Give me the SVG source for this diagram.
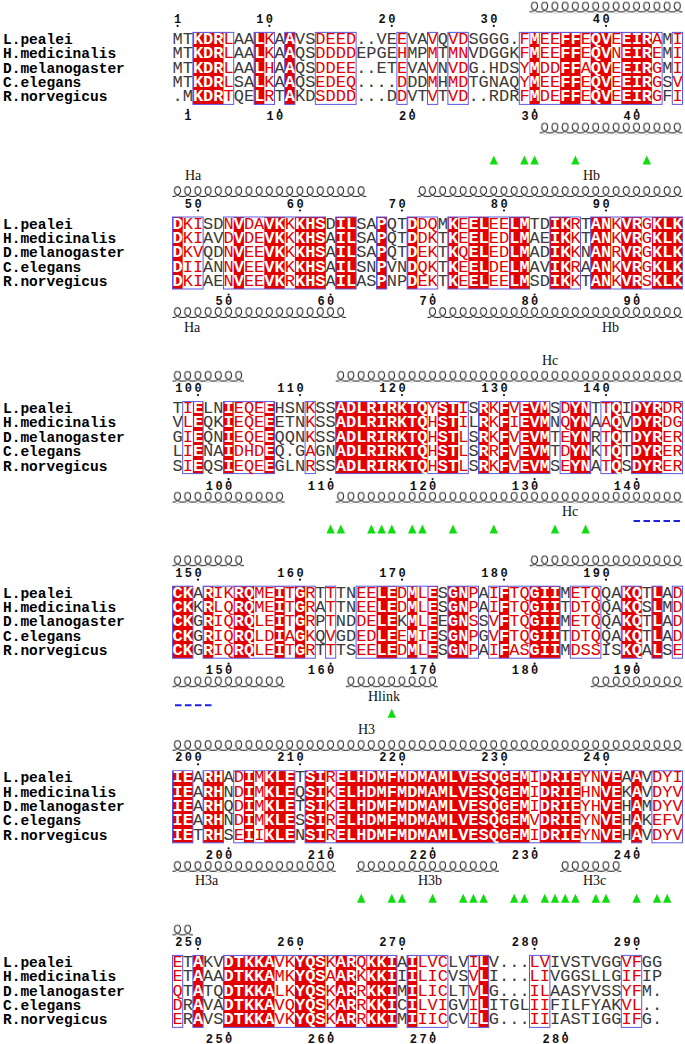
<svg xmlns="http://www.w3.org/2000/svg" width="685" height="1044" viewBox="0 0 685 1044">
<style>
.n{font:bold 14.5px 'Liberation Mono',monospace;fill:#000}
.seq text{font:17px 'Liberation Mono',monospace;fill:#3a3a3a}
.w{font-weight:bold;fill:#fff}
.r{fill:#e40000}
.num{font:bold 12px 'Liberation Mono',monospace;fill:#111;letter-spacing:2.4px}
.lab{font:14px 'Liberation Serif',serif;fill:#111}
.red rect{fill:#e40000}
.frm rect{fill:none;stroke:#5a5ae0;stroke-width:1}
.hx{fill:url(#coil)}
.tri{fill:#10dd10}
.dash{stroke:#2020e0;stroke-width:2;stroke-dasharray:6.5 3.5}
.dots{fill:#111}
</style>
<defs>
<pattern id="coil" patternUnits="userSpaceOnUse" x="0" y="0" width="10.2" height="12"><path d="M0,10.5 C3,10.5 8,8.5 8,5 C8,2 6.5,0.8 5,0.8 C3.5,0.8 2,2 2,5 C2,8.5 7,10.5 10.2,10.5" fill="none" stroke="#1a1a1a" stroke-width="1"/></pattern>
<path id="tri" d="M0,-4.5L4.2,4.5H-4.2Z"/>
</defs>

<g id="block1" transform="translate(172.5,32.4)">
<g class="red"><rect x="20.4" width="30.6" height="72"/><rect x="81.6" width="10.2" height="72"/><rect x="112.2" width="10.2" height="72"/><rect x="357" width="10.2" height="72"/><rect x="387.6" width="20.4" height="72"/><rect x="418.2" width="20.4" height="72"/><rect x="448.8" width="30.6" height="72"/></g>
<g class="frm"><rect x="20.4" width="40.8" height="72"/><rect x="81.6" width="20.4" height="72"/><rect x="112.2" width="10.2" height="72"/><rect x="142.8" width="40.8" height="72"/><rect x="224.4" width="10.2" height="72"/><rect x="255" width="10.2" height="72"/><rect x="275.4" width="20.4" height="72"/><rect x="346.8" width="142.8" height="72"/><rect x="499.8" width="10.2" height="72"/></g>
<g class="seq">
<text y="11.5">MT<tspan class="w">KDR</tspan><tspan class="r">L</tspan>AA<tspan class="w">L</tspan><tspan class="r">K</tspan>A<tspan class="w">A</tspan>VS<tspan class="r">DEED</tspan>..VE<tspan class="r">E</tspan>VA<tspan class="r">V</tspan>Q<tspan class="r">VD</tspan>SGGG.<tspan class="r">F</tspan><tspan class="w">M</tspan><tspan class="r">EE</tspan><tspan class="w">FF</tspan><tspan class="r">E</tspan><tspan class="w">QV</tspan><tspan class="r">E</tspan><tspan class="w">EIR</tspan><tspan class="r">A</tspan>M<tspan class="r">I</tspan></text>
<text y="25.9">MT<tspan class="w">KDR</tspan><tspan class="r">L</tspan>AA<tspan class="w">L</tspan><tspan class="r">K</tspan>A<tspan class="w">A</tspan>QS<tspan class="r">DDDD</tspan>EPGE<tspan class="r">H</tspan>MP<tspan class="r">M</tspan>T<tspan class="r">MN</tspan>VDGGK<tspan class="r">F</tspan><tspan class="w">M</tspan><tspan class="r">EE</tspan><tspan class="w">FF</tspan><tspan class="r">E</tspan><tspan class="w">QV</tspan><tspan class="r">N</tspan><tspan class="w">EIR</tspan><tspan class="r">E</tspan>M<tspan class="r">I</tspan></text>
<text y="40.3">MT<tspan class="w">KDR</tspan><tspan class="r">L</tspan>AA<tspan class="w">L</tspan><tspan class="r">H</tspan>A<tspan class="w">A</tspan>QS<tspan class="r">DDEE</tspan>..ET<tspan class="r">E</tspan>VA<tspan class="r">V</tspan>N<tspan class="r">VD</tspan>G.HDS<tspan class="r">Y</tspan><tspan class="w">M</tspan><tspan class="r">DD</tspan><tspan class="w">FF</tspan><tspan class="r">A</tspan><tspan class="w">QV</tspan><tspan class="r">E</tspan><tspan class="w">EIR</tspan><tspan class="r">G</tspan>M<tspan class="r">I</tspan></text>
<text y="54.7">MT<tspan class="w">KDR</tspan><tspan class="r">L</tspan>SA<tspan class="w">L</tspan><tspan class="r">K</tspan>A<tspan class="w">A</tspan>QS<tspan class="r">EDEQ</tspan>....<tspan class="r">D</tspan>DD<tspan class="r">M</tspan>H<tspan class="r">MD</tspan>TGNAQ<tspan class="r">Y</tspan><tspan class="w">M</tspan><tspan class="r">EE</tspan><tspan class="w">FF</tspan><tspan class="r">E</tspan><tspan class="w">QV</tspan><tspan class="r">E</tspan><tspan class="w">EIR</tspan><tspan class="r">G</tspan>S<tspan class="r">V</tspan></text>
<text y="69.1">.M<tspan class="w">KDR</tspan><tspan class="r">T</tspan>QE<tspan class="w">L</tspan><tspan class="r">R</tspan>T<tspan class="w">A</tspan>KD<tspan class="r">SDDD</tspan>...D<tspan class="r">D</tspan>VT<tspan class="r">V</tspan>T<tspan class="r">VD</tspan>..RDR<tspan class="r">F</tspan><tspan class="w">M</tspan><tspan class="r">DE</tspan><tspan class="w">FF</tspan><tspan class="r">E</tspan><tspan class="w">QV</tspan><tspan class="r">E</tspan><tspan class="w">EIR</tspan><tspan class="r">G</tspan>F<tspan class="r">I</tspan></text>
</g>
<g class="names"><text class="n" x="-169.5" y="11.5">L.pealei</text><text class="n" x="-169.5" y="25.9">H.medicinalis</text><text class="n" x="-169.5" y="40.3">D.melanogaster</text><text class="n" x="-169.5" y="54.7">C.elegans</text><text class="n" x="-169.5" y="69.1">R.norvegicus</text></g>
<text class="num" y="-9.5"><tspan x="1.5">1</tspan><tspan x="83.7">10</tspan><tspan x="206.1">20</tspan><tspan x="308.1">30</tspan><tspan x="420.3">40</tspan></text>
<text class="num" y="88"><tspan x="11.7">1</tspan><tspan x="93.9">10</tspan><tspan x="226.5">20</tspan><tspan x="348.9">30</tspan><tspan x="450.9">40</tspan></text>
<g class="dots"><circle cx="5.1" cy="-6.5" r="1.1"/><circle cx="96.9" cy="-6.5" r="1.1"/><circle cx="219.3" cy="-6.5" r="1.1"/><circle cx="321.3" cy="-6.5" r="1.1"/><circle cx="433.5" cy="-6.5" r="1.1"/><circle cx="15.3" cy="77.5" r="1.1"/><circle cx="107.1" cy="77.5" r="1.1"/><circle cx="239.7" cy="77.5" r="1.1"/><circle cx="362.1" cy="77.5" r="1.1"/><circle cx="464.1" cy="77.5" r="1.1"/></g>
<rect class="hx" transform="translate(357,-31)" width="153" height="12"/>
<rect class="hx" transform="translate(367.2,90)" width="142.8" height="12"/>
<g class="tri"><use href="#tri" x="321.3" y="127.5"/><use href="#tri" x="351.9" y="127.5"/><use href="#tri" x="362.1" y="127.5"/><use href="#tri" x="402.9" y="127.5"/><use href="#tri" x="474.3" y="127.5"/></g>
</g>

<g id="block2" transform="translate(172.5,217)">
<g class="red"><rect x="0" width="10.2" height="72"/><rect x="61.2" width="10.2" height="72"/><rect x="91.8" width="20.4" height="72"/><rect x="122.4" width="30.6" height="72"/><rect x="163.2" width="20.4" height="72"/><rect x="204" width="10.2" height="72"/><rect x="234.6" width="10.2" height="72"/><rect x="275.4" width="10.2" height="72"/><rect x="295.8" width="20.4" height="72"/><rect x="336.6" width="20.4" height="72"/><rect x="377.4" width="20.4" height="72"/><rect x="418.2" width="20.4" height="72"/><rect x="448.8" width="20.4" height="72"/><rect x="479.4" width="30.6" height="72"/></g>
<g class="frm"><rect x="0" width="30.6" height="72"/><rect x="51" width="102" height="72"/><rect x="163.2" width="20.4" height="72"/><rect x="204" width="10.2" height="72"/><rect x="234.6" width="30.6" height="72"/><rect x="275.4" width="81.6" height="72"/><rect x="377.4" width="30.6" height="72"/><rect x="418.2" width="91.8" height="72"/></g>
<g class="seq">
<text y="11.5"><tspan class="w">D</tspan><tspan class="r">KI</tspan>SD<tspan class="r">N</tspan><tspan class="w">V</tspan><tspan class="r">DA</tspan><tspan class="w">VK</tspan><tspan class="r">K</tspan><tspan class="w">KHS</tspan>D<tspan class="w">IL</tspan>SA<tspan class="w">P</tspan>QT<tspan class="w">D</tspan><tspan class="r">DQ</tspan>M<tspan class="w">K</tspan><tspan class="r">E</tspan><tspan class="w">EL</tspan><tspan class="r">EE</tspan><tspan class="w">LM</tspan>TD<tspan class="w">IK</tspan><tspan class="r">R</tspan>T<tspan class="w">AN</tspan><tspan class="r">K</tspan><tspan class="w">VR</tspan><tspan class="r">G</tspan><tspan class="w">KLK</tspan></text>
<text y="25.9"><tspan class="w">D</tspan><tspan class="r">KI</tspan>AV<tspan class="r">D</tspan><tspan class="w">V</tspan><tspan class="r">DE</tspan><tspan class="w">VK</tspan><tspan class="r">K</tspan><tspan class="w">KHS</tspan>A<tspan class="w">IL</tspan>SA<tspan class="w">P</tspan>QT<tspan class="w">D</tspan><tspan class="r">DK</tspan>T<tspan class="w">K</tspan><tspan class="r">E</tspan><tspan class="w">EL</tspan><tspan class="r">ED</tspan><tspan class="w">LM</tspan>AE<tspan class="w">IK</tspan><tspan class="r">K</tspan>T<tspan class="w">AN</tspan><tspan class="r">K</tspan><tspan class="w">VR</tspan><tspan class="r">G</tspan><tspan class="w">KLK</tspan></text>
<text y="40.3"><tspan class="w">D</tspan><tspan class="r">KV</tspan>QD<tspan class="r">N</tspan><tspan class="w">V</tspan><tspan class="r">EE</tspan><tspan class="w">VK</tspan><tspan class="r">K</tspan><tspan class="w">KHS</tspan>A<tspan class="w">IL</tspan>SA<tspan class="w">P</tspan>QT<tspan class="w">D</tspan><tspan class="r">EK</tspan>T<tspan class="w">K</tspan><tspan class="r">Q</tspan><tspan class="w">EL</tspan><tspan class="r">ED</tspan><tspan class="w">LM</tspan>AD<tspan class="w">IK</tspan><tspan class="r">K</tspan>N<tspan class="w">AN</tspan><tspan class="r">R</tspan><tspan class="w">VR</tspan><tspan class="r">G</tspan><tspan class="w">KLK</tspan></text>
<text y="54.7"><tspan class="w">D</tspan><tspan class="r">II</tspan>AN<tspan class="r">N</tspan><tspan class="w">V</tspan><tspan class="r">EE</tspan><tspan class="w">VK</tspan><tspan class="r">K</tspan><tspan class="w">KHS</tspan>A<tspan class="w">IL</tspan>SN<tspan class="w">P</tspan>VN<tspan class="w">D</tspan><tspan class="r">QK</tspan>T<tspan class="w">K</tspan><tspan class="r">E</tspan><tspan class="w">EL</tspan><tspan class="r">DE</tspan><tspan class="w">LM</tspan>AV<tspan class="w">IK</tspan><tspan class="r">R</tspan>A<tspan class="w">AN</tspan><tspan class="r">K</tspan><tspan class="w">VR</tspan><tspan class="r">G</tspan><tspan class="w">KLK</tspan></text>
<text y="69.1"><tspan class="w">D</tspan><tspan class="r">KI</tspan>AE<tspan class="r">N</tspan><tspan class="w">V</tspan><tspan class="r">EE</tspan><tspan class="w">VK</tspan><tspan class="r">R</tspan><tspan class="w">KHS</tspan>A<tspan class="w">IL</tspan>AS<tspan class="w">P</tspan>NP<tspan class="w">D</tspan><tspan class="r">EK</tspan>T<tspan class="w">K</tspan><tspan class="r">E</tspan><tspan class="w">EL</tspan><tspan class="r">EE</tspan><tspan class="w">LM</tspan>SD<tspan class="w">IK</tspan><tspan class="r">K</tspan>T<tspan class="w">AN</tspan><tspan class="r">K</tspan><tspan class="w">VR</tspan><tspan class="r">S</tspan><tspan class="w">KLK</tspan></text>
</g>
<g class="names"><text class="n" x="-169.5" y="11.5">L.pealei</text><text class="n" x="-169.5" y="25.9">H.medicinalis</text><text class="n" x="-169.5" y="40.3">D.melanogaster</text><text class="n" x="-169.5" y="54.7">C.elegans</text><text class="n" x="-169.5" y="69.1">R.norvegicus</text></g>
<text class="num" y="-9.5"><tspan x="12.3">50</tspan><tspan x="114.3">60</tspan><tspan x="216.3">70</tspan><tspan x="318.3">80</tspan><tspan x="420.3">90</tspan></text>
<text class="num" y="88"><tspan x="42.9">50</tspan><tspan x="144.9">60</tspan><tspan x="246.9">70</tspan><tspan x="348.9">80</tspan><tspan x="450.9">90</tspan></text>
<g class="dots"><circle cx="25.5" cy="-6.5" r="1.1"/><circle cx="127.5" cy="-6.5" r="1.1"/><circle cx="229.5" cy="-6.5" r="1.1"/><circle cx="331.5" cy="-6.5" r="1.1"/><circle cx="433.5" cy="-6.5" r="1.1"/><circle cx="56.1" cy="77.5" r="1.1"/><circle cx="158.1" cy="77.5" r="1.1"/><circle cx="260.1" cy="77.5" r="1.1"/><circle cx="362.1" cy="77.5" r="1.1"/><circle cx="464.1" cy="77.5" r="1.1"/></g>
<rect class="hx" transform="translate(0,-31)" width="193.8" height="12"/>
<rect class="hx" transform="translate(244.8,-31)" width="265.2" height="12"/>
<rect class="hx" transform="translate(0,90)" width="173.4" height="12"/>
<rect class="hx" transform="translate(255,90)" width="255" height="12"/>
<text class="lab" x="12.5" y="-37">Ha</text><text class="lab" x="410.5" y="-37">Hb</text>
<text class="lab" x="11.5" y="114.5">Ha</text><text class="lab" x="429.5" y="114.5">Hb</text>
</g>

<g id="block3" transform="translate(172.5,401.6)">
<g class="red"><rect x="20.4" width="10.2" height="72"/><rect x="51" width="10.2" height="72"/><rect x="91.8" width="10.2" height="72"/><rect x="163.2" width="91.8" height="72"/><rect x="265.2" width="20.4" height="72"/><rect x="306" width="10.2" height="72"/><rect x="326.4" width="10.2" height="72"/><rect x="346.8" width="30.6" height="72"/><rect x="397.8" width="20.4" height="72"/><rect x="438.6" width="10.2" height="72"/><rect x="459" width="30.6" height="72"/></g>
<g class="frm"><rect x="10.2" width="20.4" height="72"/><rect x="51" width="51" height="72"/><rect x="132.6" width="10.2" height="72"/><rect x="163.2" width="132.6" height="72"/><rect x="306" width="71.4" height="72"/><rect x="387.6" width="30.6" height="72"/><rect x="428.4" width="20.4" height="72"/><rect x="459" width="51" height="72"/></g>
<g class="seq">
<text y="11.5">T<tspan class="r">I</tspan><tspan class="w">E</tspan>LN<tspan class="w">I</tspan><tspan class="r">EQE</tspan><tspan class="w">E</tspan>HSN<tspan class="r">K</tspan>SS<tspan class="w">ADLRIRKTQ</tspan><tspan class="r">Y</tspan><tspan class="w">ST</tspan><tspan class="r">I</tspan>S<tspan class="w">R</tspan><tspan class="r">K</tspan><tspan class="w">F</tspan><tspan class="r">V</tspan><tspan class="w">EVM</tspan>S<tspan class="r">D</tspan><tspan class="w">YN</tspan>T<tspan class="r">T</tspan><tspan class="w">Q</tspan>I<tspan class="w">DYR</tspan><tspan class="r">DR</tspan></text>
<text y="25.9">V<tspan class="r">L</tspan><tspan class="w">E</tspan>QK<tspan class="w">I</tspan><tspan class="r">EQE</tspan><tspan class="w">E</tspan>ETN<tspan class="r">K</tspan>SS<tspan class="w">ADLRIRKTQ</tspan><tspan class="r">H</tspan><tspan class="w">ST</tspan><tspan class="r">I</tspan>L<tspan class="w">R</tspan><tspan class="r">K</tspan><tspan class="w">F</tspan><tspan class="r">I</tspan><tspan class="w">EVM</tspan>N<tspan class="r">Q</tspan><tspan class="w">YN</tspan>A<tspan class="r">A</tspan><tspan class="w">Q</tspan>V<tspan class="w">DYR</tspan><tspan class="r">DG</tspan></text>
<text y="40.3">G<tspan class="r">I</tspan><tspan class="w">E</tspan>QN<tspan class="w">I</tspan><tspan class="r">EQE</tspan><tspan class="w">E</tspan>QQN<tspan class="r">K</tspan>SS<tspan class="w">ADLRIRKTQ</tspan><tspan class="r">H</tspan><tspan class="w">ST</tspan><tspan class="r">L</tspan>S<tspan class="w">R</tspan><tspan class="r">K</tspan><tspan class="w">F</tspan><tspan class="r">V</tspan><tspan class="w">EVM</tspan>T<tspan class="r">E</tspan><tspan class="w">YN</tspan>R<tspan class="r">T</tspan><tspan class="w">Q</tspan>T<tspan class="w">DYR</tspan><tspan class="r">ER</tspan></text>
<text y="54.7">L<tspan class="r">I</tspan><tspan class="w">E</tspan>NA<tspan class="w">I</tspan><tspan class="r">DHD</tspan><tspan class="w">E</tspan>Q.G<tspan class="r">A</tspan>GN<tspan class="w">ADLRIRKTQ</tspan><tspan class="r">H</tspan><tspan class="w">ST</tspan><tspan class="r">L</tspan>S<tspan class="w">R</tspan><tspan class="r">R</tspan><tspan class="w">F</tspan><tspan class="r">V</tspan><tspan class="w">EVM</tspan>T<tspan class="r">D</tspan><tspan class="w">YN</tspan>K<tspan class="r">T</tspan><tspan class="w">Q</tspan>T<tspan class="w">DYR</tspan><tspan class="r">ER</tspan></text>
<text y="69.1">S<tspan class="r">I</tspan><tspan class="w">E</tspan>QS<tspan class="w">I</tspan><tspan class="r">EQE</tspan><tspan class="w">E</tspan>GLN<tspan class="r">R</tspan>SS<tspan class="w">ADLRIRKTQ</tspan><tspan class="r">H</tspan><tspan class="w">ST</tspan><tspan class="r">L</tspan>S<tspan class="w">R</tspan><tspan class="r">K</tspan><tspan class="w">F</tspan><tspan class="r">V</tspan><tspan class="w">EVM</tspan>S<tspan class="r">E</tspan><tspan class="w">YN</tspan>A<tspan class="r">T</tspan><tspan class="w">Q</tspan>S<tspan class="w">DYR</tspan><tspan class="r">ER</tspan></text>
</g>
<g class="names"><text class="n" x="-169.5" y="11.5">L.pealei</text><text class="n" x="-169.5" y="25.9">H.medicinalis</text><text class="n" x="-169.5" y="40.3">D.melanogaster</text><text class="n" x="-169.5" y="54.7">C.elegans</text><text class="n" x="-169.5" y="69.1">R.norvegicus</text></g>
<text class="num" y="-9.5"><tspan x="2.7">100</tspan><tspan x="104.7">110</tspan><tspan x="206.7">120</tspan><tspan x="308.7">130</tspan><tspan x="410.7">140</tspan></text>
<text class="num" y="88"><tspan x="33.3">100</tspan><tspan x="135.3">110</tspan><tspan x="237.3">120</tspan><tspan x="339.3">130</tspan><tspan x="441.3">140</tspan></text>
<g class="dots"><circle cx="25.5" cy="-6.5" r="1.1"/><circle cx="127.5" cy="-6.5" r="1.1"/><circle cx="229.5" cy="-6.5" r="1.1"/><circle cx="331.5" cy="-6.5" r="1.1"/><circle cx="433.5" cy="-6.5" r="1.1"/><circle cx="56.1" cy="77.5" r="1.1"/><circle cx="158.1" cy="77.5" r="1.1"/><circle cx="260.1" cy="77.5" r="1.1"/><circle cx="362.1" cy="77.5" r="1.1"/><circle cx="464.1" cy="77.5" r="1.1"/></g>
<rect class="hx" transform="translate(0,-31)" width="71.4" height="12"/>
<rect class="hx" transform="translate(163.2,-31)" width="346.8" height="12"/>
<rect class="hx" transform="translate(0,90)" width="112.2" height="12"/>
<rect class="hx" transform="translate(163.2,90)" width="346.8" height="12"/>
<text class="lab" x="369.5" y="-37">Hc</text><text class="lab" x="389.5" y="114.5">Hc</text>
<line class="dash" x1="461" y1="119.4" x2="510" y2="119.4"/>
<g class="tri"><use href="#tri" x="158.1" y="127.5"/><use href="#tri" x="168.3" y="127.5"/><use href="#tri" x="198.9" y="127.5"/><use href="#tri" x="209.1" y="127.5"/><use href="#tri" x="219.3" y="127.5"/><use href="#tri" x="239.7" y="127.5"/><use href="#tri" x="249.9" y="127.5"/><use href="#tri" x="280.5" y="127.5"/><use href="#tri" x="321.3" y="127.5"/><use href="#tri" x="382.5" y="127.5"/><use href="#tri" x="413.1" y="127.5"/></g>
</g>

<g id="block4" transform="translate(172.5,586.2)">
<g class="red"><rect x="0" width="20.4" height="72"/><rect x="30.6" width="10.2" height="72"/><rect x="61.2" width="20.4" height="72"/><rect x="102" width="10.2" height="72"/><rect x="122.4" width="10.2" height="72"/><rect x="204" width="20.4" height="72"/><rect x="234.6" width="10.2" height="72"/><rect x="255" width="10.2" height="72"/><rect x="275.4" width="20.4" height="72"/><rect x="326.4" width="10.2" height="72"/><rect x="357" width="30.6" height="72"/><rect x="448.8" width="20.4" height="72"/><rect x="479.4" width="10.2" height="72"/></g>
<g class="frm"><rect x="0" width="20.4" height="72"/><rect x="30.6" width="112.2" height="72"/><rect x="153" width="10.2" height="72"/><rect x="183.6" width="81.6" height="72"/><rect x="275.4" width="30.6" height="72"/><rect x="316.2" width="71.4" height="72"/><rect x="397.8" width="30.6" height="72"/><rect x="448.8" width="20.4" height="72"/><rect x="479.4" width="10.2" height="72"/><rect x="499.8" width="10.2" height="72"/></g>
<g class="seq">
<text y="11.5"><tspan class="w">CK</tspan>A<tspan class="w">R</tspan><tspan class="r">IK</tspan><tspan class="w">RQ</tspan><tspan class="r">ME</tspan><tspan class="w">I</tspan><tspan class="r">T</tspan><tspan class="w">G</tspan><tspan class="r">R</tspan>T<tspan class="r">T</tspan>TN<tspan class="r">EE</tspan><tspan class="w">LE</tspan><tspan class="r">D</tspan><tspan class="w">M</tspan><tspan class="r">L</tspan><tspan class="w">E</tspan>S<tspan class="w">GN</tspan><tspan class="r">P</tspan>A<tspan class="r">I</tspan><tspan class="w">F</tspan><tspan class="r">TQ</tspan><tspan class="w">GII</tspan>M<tspan class="r">ETQ</tspan>QA<tspan class="w">KQ</tspan>T<tspan class="w">L</tspan>A<tspan class="r">D</tspan></text>
<text y="25.9"><tspan class="w">CK</tspan>K<tspan class="w">R</tspan><tspan class="r">LQ</tspan><tspan class="w">RQ</tspan><tspan class="r">ME</tspan><tspan class="w">I</tspan><tspan class="r">T</tspan><tspan class="w">G</tspan><tspan class="r">R</tspan>A<tspan class="r">T</tspan>TN<tspan class="r">EE</tspan><tspan class="w">LE</tspan><tspan class="r">D</tspan><tspan class="w">M</tspan><tspan class="r">L</tspan><tspan class="w">E</tspan>S<tspan class="w">GN</tspan><tspan class="r">P</tspan>A<tspan class="r">I</tspan><tspan class="w">F</tspan><tspan class="r">TQ</tspan><tspan class="w">GII</tspan>T<tspan class="r">DTQ</tspan>QA<tspan class="w">KQ</tspan>S<tspan class="w">L</tspan>M<tspan class="r">D</tspan></text>
<text y="40.3"><tspan class="w">CK</tspan>G<tspan class="w">R</tspan><tspan class="r">IQ</tspan><tspan class="w">RQ</tspan><tspan class="r">LE</tspan><tspan class="w">I</tspan><tspan class="r">T</tspan><tspan class="w">G</tspan><tspan class="r">R</tspan>P<tspan class="r">T</tspan>ND<tspan class="r">DE</tspan><tspan class="w">LE</tspan>K<tspan class="w">M</tspan><tspan class="r">L</tspan><tspan class="w">E</tspan>E<tspan class="w">GN</tspan><tspan class="r">S</tspan>S<tspan class="r">V</tspan><tspan class="w">F</tspan><tspan class="r">TQ</tspan><tspan class="w">GII</tspan>M<tspan class="r">ETQ</tspan>QA<tspan class="w">KQ</tspan>T<tspan class="w">L</tspan>A<tspan class="r">D</tspan></text>
<text y="54.7"><tspan class="w">CK</tspan>G<tspan class="w">R</tspan><tspan class="r">IQ</tspan><tspan class="w">RQ</tspan><tspan class="r">LD</tspan><tspan class="w">I</tspan><tspan class="r">A</tspan><tspan class="w">G</tspan><tspan class="r">K</tspan>Q<tspan class="r">V</tspan>GD<tspan class="r">ED</tspan><tspan class="w">LE</tspan><tspan class="r">E</tspan><tspan class="w">M</tspan><tspan class="r">I</tspan><tspan class="w">E</tspan>S<tspan class="w">GN</tspan><tspan class="r">P</tspan>G<tspan class="r">V</tspan><tspan class="w">F</tspan><tspan class="r">TQ</tspan><tspan class="w">GII</tspan>T<tspan class="r">DTQ</tspan>QA<tspan class="w">KQ</tspan>T<tspan class="w">L</tspan>A<tspan class="r">D</tspan></text>
<text y="69.1"><tspan class="w">CK</tspan>G<tspan class="w">R</tspan><tspan class="r">IQ</tspan><tspan class="w">RQ</tspan><tspan class="r">LE</tspan><tspan class="w">I</tspan><tspan class="r">T</tspan><tspan class="w">G</tspan><tspan class="r">R</tspan>T<tspan class="r">T</tspan>TS<tspan class="r">EE</tspan><tspan class="w">LE</tspan><tspan class="r">D</tspan><tspan class="w">M</tspan><tspan class="r">L</tspan><tspan class="w">E</tspan>S<tspan class="w">GN</tspan><tspan class="r">P</tspan>A<tspan class="r">I</tspan><tspan class="w">F</tspan><tspan class="r">AS</tspan><tspan class="w">GII</tspan>M<tspan class="r">DSS</tspan>IS<tspan class="w">KQ</tspan>A<tspan class="w">L</tspan>S<tspan class="r">E</tspan></text>
</g>
<g class="names"><text class="n" x="-169.5" y="11.5">L.pealei</text><text class="n" x="-169.5" y="25.9">H.medicinalis</text><text class="n" x="-169.5" y="40.3">D.melanogaster</text><text class="n" x="-169.5" y="54.7">C.elegans</text><text class="n" x="-169.5" y="69.1">R.norvegicus</text></g>
<text class="num" y="-9.5"><tspan x="2.7">150</tspan><tspan x="104.7">160</tspan><tspan x="206.7">170</tspan><tspan x="308.7">180</tspan><tspan x="410.7">190</tspan></text>
<text class="num" y="88"><tspan x="33.3">150</tspan><tspan x="135.3">160</tspan><tspan x="237.3">170</tspan><tspan x="339.3">180</tspan><tspan x="441.3">190</tspan></text>
<g class="dots"><circle cx="25.5" cy="-6.5" r="1.1"/><circle cx="127.5" cy="-6.5" r="1.1"/><circle cx="229.5" cy="-6.5" r="1.1"/><circle cx="331.5" cy="-6.5" r="1.1"/><circle cx="433.5" cy="-6.5" r="1.1"/><circle cx="56.1" cy="77.5" r="1.1"/><circle cx="158.1" cy="77.5" r="1.1"/><circle cx="260.1" cy="77.5" r="1.1"/><circle cx="362.1" cy="77.5" r="1.1"/><circle cx="464.1" cy="77.5" r="1.1"/></g>
<rect class="hx" transform="translate(0,-31)" width="71.4" height="12"/>
<rect class="hx" transform="translate(357,-31)" width="153" height="12"/>
<rect class="hx" transform="translate(0,90)" width="112.2" height="12"/>
<rect class="hx" transform="translate(173.4,90)" width="91.8" height="12"/>
<rect class="hx" transform="translate(418.2,90)" width="91.8" height="12"/>
<text class="lab" x="195.5" y="114.5">Hlink</text>
<line class="dash" x1="2.5" y1="119" x2="41" y2="119"/>
<g class="tri"><use href="#tri" x="219.3" y="127"/></g>
</g>

<g id="block5" transform="translate(172.5,770.8)">
<g class="red"><rect x="0" width="20.4" height="72"/><rect x="30.6" width="20.4" height="72"/><rect x="71.4" width="10.2" height="72"/><rect x="91.8" width="30.6" height="72"/><rect x="132.6" width="20.4" height="72"/><rect x="163.2" width="193.8" height="72"/><rect x="367.2" width="40.8" height="72"/><rect x="428.4" width="20.4" height="72"/><rect x="459" width="10.2" height="72"/></g>
<g class="frm"><rect x="0" width="20.4" height="72"/><rect x="30.6" width="20.4" height="72"/><rect x="61.2" width="61.2" height="72"/><rect x="132.6" width="316.2" height="72"/><rect x="459" width="10.2" height="72"/><rect x="479.4" width="30.6" height="72"/></g>
<g class="seq">
<text y="11.5"><tspan class="w">IE</tspan>A<tspan class="w">RH</tspan>A<tspan class="r">D</tspan><tspan class="w">I</tspan><tspan class="r">M</tspan><tspan class="w">KLE</tspan>T<tspan class="w">SI</tspan><tspan class="r">R</tspan><tspan class="w">ELHDMFMDMAMLVESQGEM</tspan><tspan class="r">I</tspan><tspan class="w">DRIE</tspan><tspan class="r">YN</tspan><tspan class="w">VE</tspan>A<tspan class="w">A</tspan>V<tspan class="r">DYI</tspan></text>
<text y="25.9"><tspan class="w">IE</tspan>A<tspan class="w">RH</tspan>N<tspan class="r">D</tspan><tspan class="w">I</tspan><tspan class="r">M</tspan><tspan class="w">KLE</tspan>Q<tspan class="w">SI</tspan><tspan class="r">K</tspan><tspan class="w">ELHDMFMDMAMLVESQGEM</tspan><tspan class="r">I</tspan><tspan class="w">DRIE</tspan><tspan class="r">HN</tspan><tspan class="w">VE</tspan>K<tspan class="w">A</tspan>V<tspan class="r">DYV</tspan></text>
<text y="40.3"><tspan class="w">IE</tspan>A<tspan class="w">RH</tspan>Q<tspan class="r">D</tspan><tspan class="w">I</tspan><tspan class="r">M</tspan><tspan class="w">KLE</tspan>T<tspan class="w">SI</tspan><tspan class="r">K</tspan><tspan class="w">ELHDMFMDMAMLVESQGEM</tspan><tspan class="r">I</tspan><tspan class="w">DRIE</tspan><tspan class="r">YH</tspan><tspan class="w">VE</tspan>H<tspan class="w">A</tspan>M<tspan class="r">DYV</tspan></text>
<text y="54.7"><tspan class="w">IE</tspan>A<tspan class="w">RH</tspan>N<tspan class="r">D</tspan><tspan class="w">I</tspan><tspan class="r">M</tspan><tspan class="w">KLE</tspan>S<tspan class="w">SI</tspan><tspan class="r">R</tspan><tspan class="w">ELHDMFMDMAMLVESQGEM</tspan><tspan class="r">V</tspan><tspan class="w">DRIE</tspan><tspan class="r">YN</tspan><tspan class="w">VE</tspan>H<tspan class="w">A</tspan>K<tspan class="r">EFV</tspan></text>
<text y="69.1"><tspan class="w">IE</tspan>T<tspan class="w">RH</tspan>S<tspan class="r">E</tspan><tspan class="w">I</tspan><tspan class="r">I</tspan><tspan class="w">KLE</tspan>N<tspan class="w">SI</tspan><tspan class="r">R</tspan><tspan class="w">ELHDMFMDMAMLVESQGEM</tspan><tspan class="r">I</tspan><tspan class="w">DRIE</tspan><tspan class="r">YN</tspan><tspan class="w">VE</tspan>H<tspan class="w">A</tspan>V<tspan class="r">DYV</tspan></text>
</g>
<g class="names"><text class="n" x="-169.5" y="11.5">L.pealei</text><text class="n" x="-169.5" y="25.9">H.medicinalis</text><text class="n" x="-169.5" y="40.3">D.melanogaster</text><text class="n" x="-169.5" y="54.7">C.elegans</text><text class="n" x="-169.5" y="69.1">R.norvegicus</text></g>
<text class="num" y="-9.5"><tspan x="2.7">200</tspan><tspan x="104.7">210</tspan><tspan x="206.7">220</tspan><tspan x="308.7">230</tspan><tspan x="410.7">240</tspan></text>
<text class="num" y="88"><tspan x="33.3">200</tspan><tspan x="135.3">210</tspan><tspan x="237.3">220</tspan><tspan x="339.3">230</tspan><tspan x="441.3">240</tspan></text>
<g class="dots"><circle cx="25.5" cy="-6.5" r="1.1"/><circle cx="127.5" cy="-6.5" r="1.1"/><circle cx="229.5" cy="-6.5" r="1.1"/><circle cx="331.5" cy="-6.5" r="1.1"/><circle cx="433.5" cy="-6.5" r="1.1"/><circle cx="56.1" cy="77.5" r="1.1"/><circle cx="158.1" cy="77.5" r="1.1"/><circle cx="260.1" cy="77.5" r="1.1"/><circle cx="362.1" cy="77.5" r="1.1"/><circle cx="464.1" cy="77.5" r="1.1"/></g>
<rect class="hx" transform="translate(0,-31)" width="510" height="12"/>
<rect class="hx" transform="translate(0,90)" width="163.2" height="12"/>
<rect class="hx" transform="translate(183.6,90)" width="142.8" height="12"/>
<rect class="hx" transform="translate(387.6,90)" width="61.2" height="12"/>
<text class="lab" x="185.5" y="-37">H3</text>
<text class="lab" x="22.5" y="114.5">H3a</text><text class="lab" x="245.5" y="114.5">H3b</text><text class="lab" x="410.5" y="114.5">H3c</text>
<g class="tri"><use href="#tri" x="188.7" y="127.5"/><use href="#tri" x="219.3" y="127.5"/><use href="#tri" x="229.5" y="127.5"/><use href="#tri" x="260.1" y="127.5"/><use href="#tri" x="290.7" y="127.5"/><use href="#tri" x="300.9" y="127.5"/><use href="#tri" x="311.1" y="127.5"/><use href="#tri" x="341.7" y="127.5"/><use href="#tri" x="351.9" y="127.5"/><use href="#tri" x="372.3" y="127.5"/><use href="#tri" x="382.5" y="127.5"/><use href="#tri" x="392.7" y="127.5"/><use href="#tri" x="402.9" y="127.5"/><use href="#tri" x="423.3" y="127.5"/><use href="#tri" x="433.5" y="127.5"/><use href="#tri" x="464.1" y="127.5"/><use href="#tri" x="484.5" y="127.5"/><use href="#tri" x="494.7" y="127.5"/></g>
</g>

<g id="block6" transform="translate(172.5,955.4)">
<g class="red"><rect x="20.4" width="10.2" height="72"/><rect x="51" width="51" height="72"/><rect x="122.4" width="30.6" height="72"/><rect x="163.2" width="20.4" height="72"/><rect x="193.8" width="30.6" height="72"/><rect x="234.6" width="10.2" height="72"/><rect x="306" width="10.2" height="72"/></g>
<g class="frm"><rect x="0" width="10.2" height="72"/><rect x="20.4" width="10.2" height="72"/><rect x="51" width="173.4" height="72"/><rect x="234.6" width="40.8" height="72"/><rect x="295.8" width="20.4" height="72"/><rect x="357" width="20.4" height="72"/><rect x="448.8" width="20.4" height="72"/></g>
<g class="seq">
<text y="11.5"><tspan class="r">E</tspan>T<tspan class="w">A</tspan>KV<tspan class="w">DTKKA</tspan><tspan class="r">VK</tspan><tspan class="w">YQS</tspan><tspan class="r">K</tspan><tspan class="w">AR</tspan><tspan class="r">Q</tspan><tspan class="w">KKI</tspan>A<tspan class="w">I</tspan><tspan class="r">LVC</tspan>LV<tspan class="r">I</tspan><tspan class="w">L</tspan>V...<tspan class="r">LV</tspan>IVSTVGG<tspan class="r">VF</tspan>GG</text>
<text y="25.9"><tspan class="r">E</tspan>T<tspan class="w">A</tspan>AA<tspan class="w">DTKKA</tspan><tspan class="r">MK</tspan><tspan class="w">YQS</tspan><tspan class="r">A</tspan><tspan class="w">AR</tspan><tspan class="r">K</tspan><tspan class="w">KKI</tspan>I<tspan class="w">I</tspan><tspan class="r">LIC</tspan>VS<tspan class="r">V</tspan><tspan class="w">L</tspan>I...<tspan class="r">LI</tspan>VGGSLLG<tspan class="r">IF</tspan>IP</text>
<text y="40.3"><tspan class="r">Q</tspan>T<tspan class="w">A</tspan>TQ<tspan class="w">DTKKA</tspan><tspan class="r">LK</tspan><tspan class="w">YQS</tspan><tspan class="r">K</tspan><tspan class="w">AR</tspan><tspan class="r">R</tspan><tspan class="w">KKI</tspan>M<tspan class="w">I</tspan><tspan class="r">LIC</tspan>LT<tspan class="r">V</tspan><tspan class="w">L</tspan>G...<tspan class="r">IL</tspan>AASYVSS<tspan class="r">YF</tspan>M.</text>
<text y="54.7"><tspan class="r">D</tspan>R<tspan class="w">A</tspan>VA<tspan class="w">DTKKA</tspan><tspan class="r">VQ</tspan><tspan class="w">YQS</tspan><tspan class="r">K</tspan><tspan class="w">AR</tspan><tspan class="r">R</tspan><tspan class="w">KKI</tspan>C<tspan class="w">I</tspan><tspan class="r">LVI</tspan>GV<tspan class="r">I</tspan><tspan class="w">L</tspan>ITGL<tspan class="r">II</tspan>FILFYAK<tspan class="r">VL</tspan>..</text>
<text y="69.1"><tspan class="r">E</tspan>R<tspan class="w">A</tspan>VS<tspan class="w">DTKKA</tspan><tspan class="r">VK</tspan><tspan class="w">YQS</tspan><tspan class="r">K</tspan><tspan class="w">AR</tspan><tspan class="r">R</tspan><tspan class="w">KKI</tspan>M<tspan class="w">I</tspan><tspan class="r">IIC</tspan>CV<tspan class="r">I</tspan><tspan class="w">L</tspan>G...<tspan class="r">II</tspan>IASTIGG<tspan class="r">IF</tspan>G.</text>
</g>
<g class="names"><text class="n" x="-169.5" y="11.5">L.pealei</text><text class="n" x="-169.5" y="25.9">H.medicinalis</text><text class="n" x="-169.5" y="40.3">D.melanogaster</text><text class="n" x="-169.5" y="54.7">C.elegans</text><text class="n" x="-169.5" y="69.1">R.norvegicus</text></g>
<text class="num" y="-9.5"><tspan x="2.7">250</tspan><tspan x="104.7">260</tspan><tspan x="206.7">270</tspan><tspan x="339.3">280</tspan><tspan x="441.3">290</tspan></text>
<text class="num" y="88"><tspan x="33.3">250</tspan><tspan x="135.3">260</tspan><tspan x="237.3">270</tspan><tspan x="369.9">280</tspan></text>
<g class="dots"><circle cx="25.5" cy="-6.5" r="1.1"/><circle cx="127.5" cy="-6.5" r="1.1"/><circle cx="229.5" cy="-6.5" r="1.1"/><circle cx="362.1" cy="-6.5" r="1.1"/><circle cx="464.1" cy="-6.5" r="1.1"/><circle cx="56.1" cy="77.5" r="1.1"/><circle cx="158.1" cy="77.5" r="1.1"/><circle cx="260.1" cy="77.5" r="1.1"/><circle cx="392.7" cy="77.5" r="1.1"/></g>
<rect class="hx" transform="translate(0,-31)" width="20.4" height="12"/>
</g>
</svg>
